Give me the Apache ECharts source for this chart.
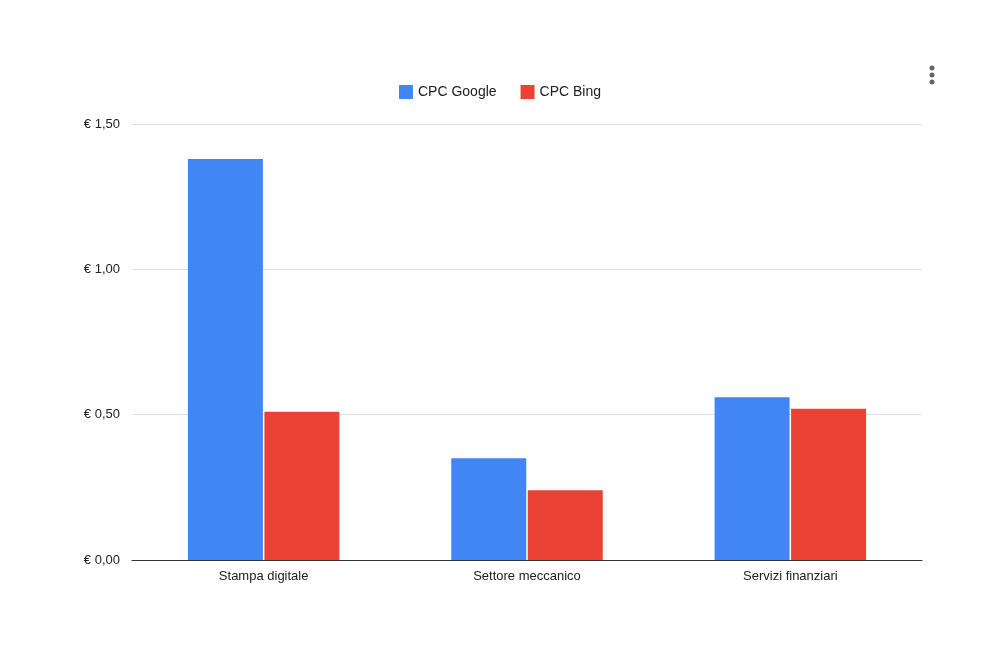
<!DOCTYPE html>
<html>
<head>
<meta charset="utf-8">
<title>CPC</title>
<script src="https://cdn.jsdelivr.net/npm/echarts@6/dist/echarts.min.js"></script>
<style>
  html, body { margin: 0; padding: 0; background: #fff; }
  #chart { width: 1000px; height: 663px; }
</style>
</head>
<body>
<div id="chart"></div>
<script>
var categories = ['Stampa digitale', 'Settore meccanico', 'Servizi finanziari'];
var cpcGoogle = [1.38, 0.35, 0.56];
var cpcBing = [0.51, 0.24, 0.52];

var chart = echarts.init(document.getElementById('chart'));
chart.setOption({
    textStyle: {fontFamily: 'Liberation Sans, Arial, sans-serif'},
    legend: {
        top: 80,
        left: 'center',
        icon: 'rect',
        itemWidth: 14,
        itemHeight: 14,
        itemGap: 24,
        textStyle: {fontSize: 14, color: '#222'}
    },
    grid: {left: 132, right: 78, top: 124, bottom: 103},
    xAxis: {
        type: 'category',
        data: categories,
        axisTick: {show: false},
        axisLine: {lineStyle: {color: '#333'}},
        axisLabel: {fontSize: 13, color: '#222', margin: 10}
    },
    yAxis: {
        type: 'value',
        min: 0,
        max: 1.5,
        interval: 0.5,
        axisLabel: {
            fontSize: 13, color: '#222', margin: 12,
            formatter: function (v) { return '€ ' + v.toFixed(2).replace('.', ','); }
        },
        splitLine: {lineStyle: {color: '#ddd'}}
    },
    series: [
        {name: 'CPC Google', type: 'bar', data: cpcGoogle, barWidth: 75, barGap: '2%',
         itemStyle: {color: '#4285f4'}},
        {name: 'CPC Bing', type: 'bar', data: cpcBing, barWidth: 75,
         itemStyle: {color: '#ea4335'}}
    ],
    graphic: [
        {type: 'circle', shape: {cx: 932, cy: 68, r: 2.5}, style: {fill: '#666'}},
        {type: 'circle', shape: {cx: 932, cy: 75, r: 2.5}, style: {fill: '#666'}},
        {type: 'circle', shape: {cx: 932, cy: 82, r: 2.5}, style: {fill: '#666'}}
    ]
});
</script>
</body>
</html>
